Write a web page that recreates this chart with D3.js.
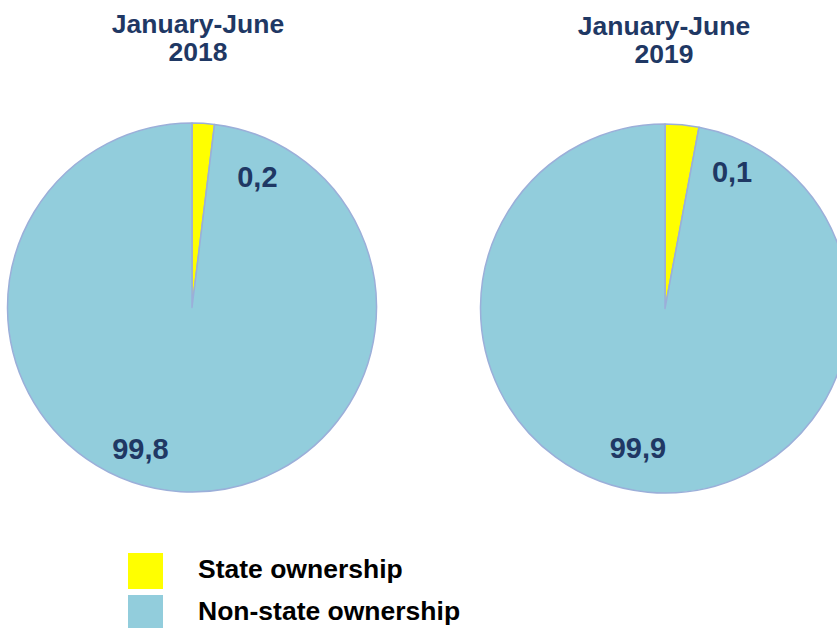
<!DOCTYPE html>
<html>
<head>
<meta charset="utf-8">
<script src="https://cdn.jsdelivr.net/npm/d3@7"></script>
<style>
  html, body { margin: 0; padding: 0; background: #fff; }
  svg { display: block; }
  text { font-family: Arial, "Liberation Sans", sans-serif; font-weight: bold; }
</style>
</head>
<body>
<svg id="chart" width="837" height="628"></svg>
<script>
// ---- data ----
const periods = ["January-June", "January-June"];
const years = ["2018", "2019"];
const categories = ["State ownership", "Non-state ownership"];
// slice sizes as drawn in the picture (percent of circle)
const stateDrawn = [1.95, 2.95];
const nonStateDrawn = [98.05, 97.05];
// printed data labels
const stateLabels = ["0,2", "0,1"];
const nonStateLabels = ["99,8", "99,9"];
const colors = ["#FFFF00", "#92CDDC"];

// ---- layout ----
const svg = d3.select("#chart");
const pieCenters = [[192, 307.5], [665, 308.5]];
const radius = 184.5;
const titleX = [198, 664];
const titleY = [33, 35];
// label placement: [angle(deg, clockwise from top), distance from centre]
const labelPlace = [
  [[26.6, 146], [200, 151]],
  [[26.2, 152], [191, 142]]
];

const color = d3.scaleOrdinal().domain(categories).range(colors);
const pie = d3.pie().sort(null).value(d => d.value);
const arc = d3.arc().innerRadius(0).outerRadius(radius);

years.forEach((yr, i) => {
  const data = [
    {cat: categories[0], value: stateDrawn[i], label: stateLabels[i]},
    {cat: categories[1], value: nonStateDrawn[i], label: nonStateLabels[i]}
  ];
  const [cx, cy] = pieCenters[i];
  const g = svg.append("g").attr("transform", `translate(${cx},${cy})`);
  const arcs = pie(data);
  g.selectAll("path").data(arcs).enter().append("path")
    .attr("d", arc)
    .attr("fill", d => color(d.data.cat))
    .attr("stroke", "#9BAFD9")
    .attr("stroke-width", 1.5)
    .attr("stroke-linejoin", "round");

  g.selectAll("text.lbl").data(arcs).enter().append("text")
    .attr("class", "lbl")
    .attr("x", (d, j) => Math.sin(labelPlace[i][j][0] * Math.PI / 180) * labelPlace[i][j][1])
    .attr("y", (d, j) => -Math.cos(labelPlace[i][j][0] * Math.PI / 180) * labelPlace[i][j][1])
    .attr("text-anchor", "middle")
    .attr("dominant-baseline", "central")
    .attr("font-size", 29)
    .attr("fill", "#1F3864")
    .text(d => d.data.label);

  const t = svg.append("text")
    .attr("x", titleX[i]).attr("y", titleY[i])
    .attr("text-anchor", "middle")
    .attr("font-size", 26.5)
    .attr("fill", "#1F3864");
  t.append("tspan").attr("x", titleX[i]).attr("dy", 0).text(periods[i]);
  t.append("tspan").attr("x", titleX[i]).attr("dy", 28).text(yr);
});

// legend
const legend = svg.append("g");
const legY = [553, 595];
categories.forEach((c, k) => {
  legend.append("rect")
    .attr("x", 128).attr("y", legY[k])
    .attr("width", 35).attr("height", 36)
    .attr("fill", color(c));
  legend.append("text")
    .attr("x", 198).attr("y", legY[k] + 25)
    .attr("font-size", 26.5)
    .attr("fill", "#000")
    .text(c);
});
</script>
</body>
</html>
